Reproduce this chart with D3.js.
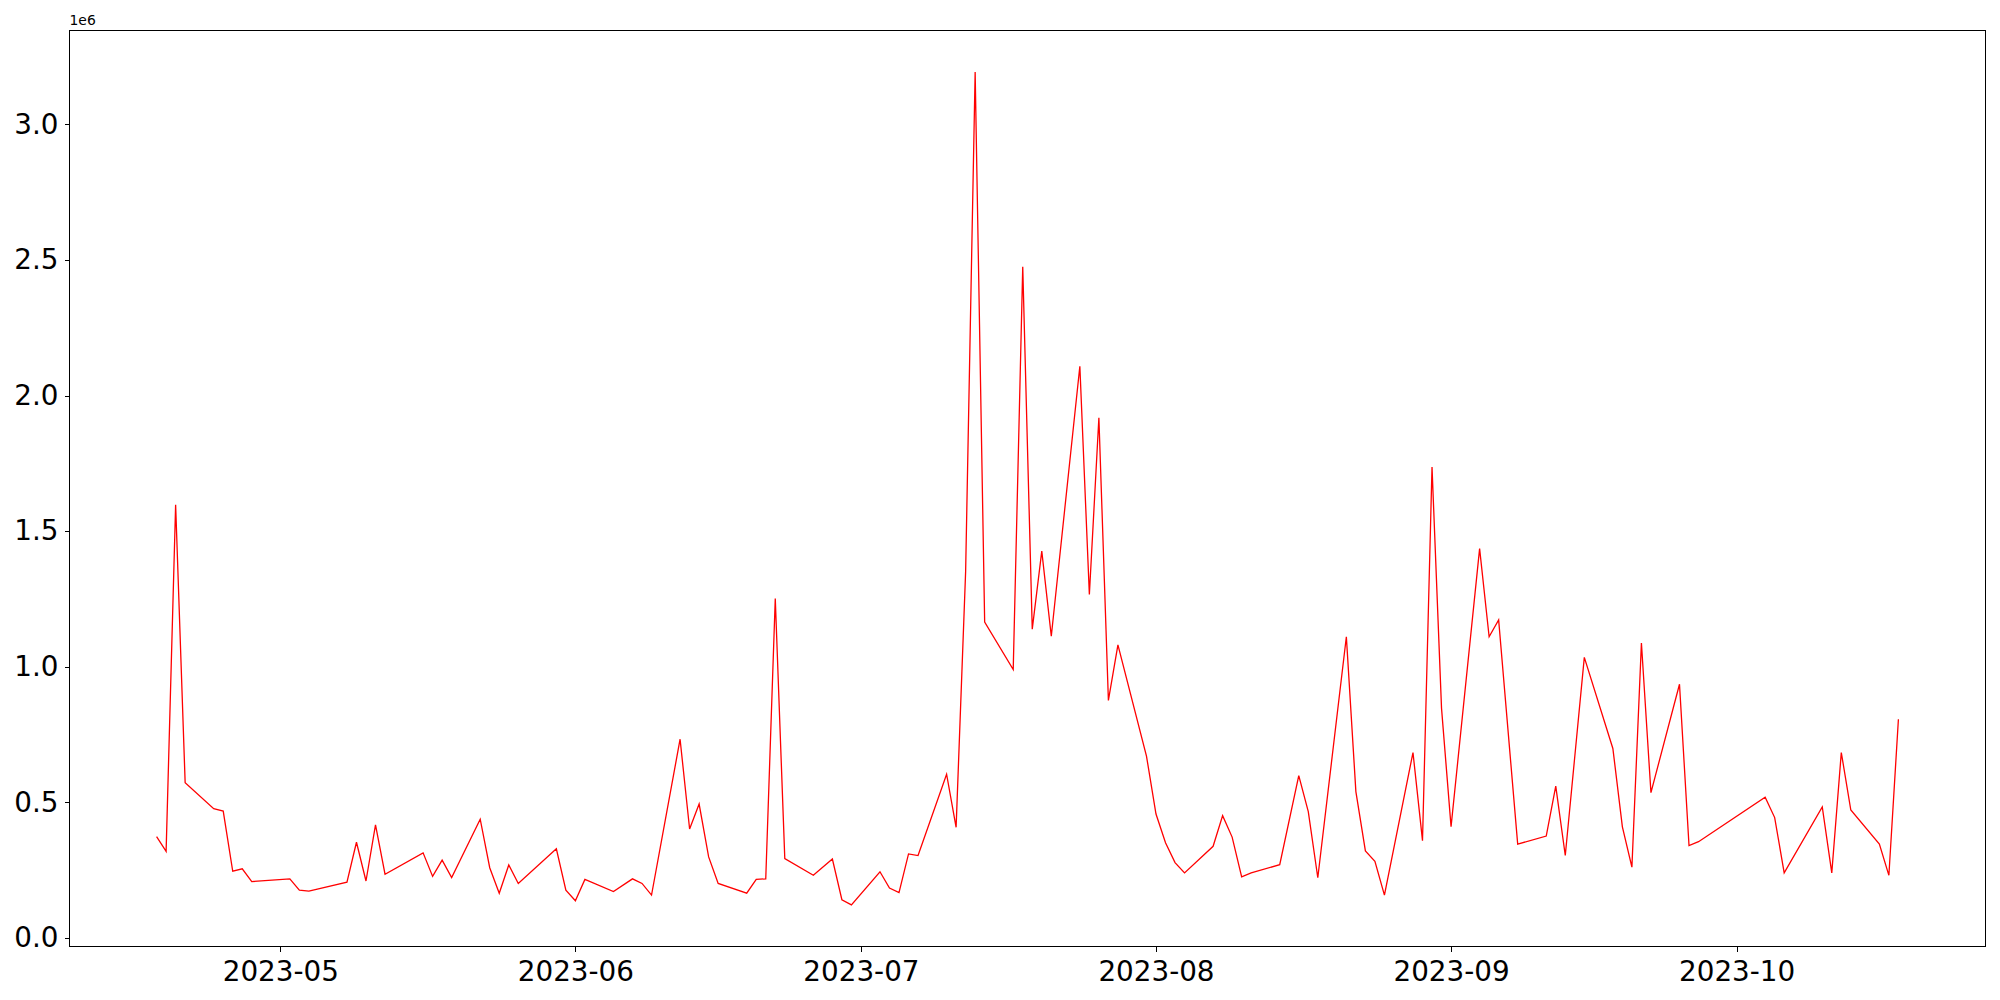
<html>
<head>
<meta charset="UTF-8">
<script src="https://d3js.org/d3.v7.min.js"></script>
<style>
    body { margin: 0; background: #fff; }
    text { font-family: "DejaVu Sans", sans-serif; }
</style>
</head>
<body>
<svg width="2000" height="1000" id="canvas"></svg>
<script>
    // trading days
    var dates = [
        "2023-04-18", "2023-04-19", "2023-04-20", "2023-04-21", "2023-04-24", "2023-04-25", "2023-04-26", "2023-04-27", "2023-04-28",
        "2023-05-02", "2023-05-03", "2023-05-04", "2023-05-08", "2023-05-09", "2023-05-10", "2023-05-11", "2023-05-12", "2023-05-16",
        "2023-05-17", "2023-05-18", "2023-05-19", "2023-05-22", "2023-05-23", "2023-05-24", "2023-05-25", "2023-05-26", "2023-05-30", "2023-05-31",
        "2023-06-01", "2023-06-02", "2023-06-05", "2023-06-07", "2023-06-08", "2023-06-09", "2023-06-12", "2023-06-13", "2023-06-14", "2023-06-15",
        "2023-06-16", "2023-06-19", "2023-06-20", "2023-06-21", "2023-06-22", "2023-06-23", "2023-06-26", "2023-06-28", "2023-06-29", "2023-06-30",
        "2023-07-03", "2023-07-04", "2023-07-05", "2023-07-06", "2023-07-07", "2023-07-10", "2023-07-11", "2023-07-12", "2023-07-13", "2023-07-14",
        "2023-07-17", "2023-07-18", "2023-07-19", "2023-07-20", "2023-07-21", "2023-07-24", "2023-07-25", "2023-07-26", "2023-07-27", "2023-07-28", "2023-07-31",
        "2023-08-01", "2023-08-02", "2023-08-03", "2023-08-04", "2023-08-07", "2023-08-08", "2023-08-09", "2023-08-10", "2023-08-11", "2023-08-14",
        "2023-08-16", "2023-08-17", "2023-08-18", "2023-08-21", "2023-08-22", "2023-08-23", "2023-08-24", "2023-08-25", "2023-08-28", "2023-08-29", "2023-08-30", "2023-08-31",
        "2023-09-01", "2023-09-04", "2023-09-05", "2023-09-06", "2023-09-08", "2023-09-11", "2023-09-12", "2023-09-13", "2023-09-15",
        "2023-09-18", "2023-09-19", "2023-09-20", "2023-09-21", "2023-09-22", "2023-09-25", "2023-09-26", "2023-09-27",
        "2023-10-04", "2023-10-05", "2023-10-06", "2023-10-10", "2023-10-11", "2023-10-12", "2023-10-13", "2023-10-16", "2023-10-17", "2023-10-18"
    ];

    var values = [
        373000, 318000, 1597000, 572000, 476000, 467000, 245000, 254000, 207000,
        217000, 175000, 172000, 205000, 352000, 209000, 416000, 234000, 313000,
        226000, 286000, 222000, 437000, 258000, 164000, 268000, 200000, 328000, 175000,
        136000, 215000, 170000, 217000, 200000, 157000, 732000, 401000, 493000, 298000,
        200000, 164000, 215000, 217000, 1251000, 292000, 230000, 290000, 140000, 121000,
        243000, 183000, 166000, 309000, 303000, 603000, 407000, 1351000, 3193000, 1164000,
        989000, 2475000, 1138000, 1426000, 1112000, 2108000, 1266000, 1918000, 875000, 1080000, 670000,
        456000, 350000, 277000, 239000, 337000, 450000, 371000, 224000, 239000, 269000,
        598000, 465000, 221000, 1110000, 539000, 320000, 282000, 157000, 683000, 358000, 1736000, 846000,
        409000, 1435000, 1110000, 1172000, 345000, 375000, 559000, 303000, 1034000,
        698000, 409000, 260000, 1087000, 535000, 935000, 340000, 354000,
        518000, 443000, 239000, 482000, 239000, 683000, 471000, 345000, 230000, 806000
    ];

    var xTicks = ["2023-05-01", "2023-06-01", "2023-07-01", "2023-08-01", "2023-09-01", "2023-10-01"];
    var yTicks = [0, 500000, 1000000, 1500000, 2000000, 2500000, 3000000];

    var parse = d3.utcParse("%Y-%m-%d");
    var data = dates.map(function (d, i) { return { date: parse(d), value: values[i] }; });

    var svg = d3.select("#canvas");
    var plotLeft = 69.5, plotRight = 1985.5, plotTop = 30.5, plotBottom = 946.5;

    // matplotlib style 5% padding on both axes
    var xExt = d3.extent(data, d => d.date);
    var xPad = (xExt[1] - xExt[0]) * 0.05;
    var x = d3.scaleUtc()
        .domain([new Date(+xExt[0] - xPad), new Date(+xExt[1] + xPad)])
        .range([plotLeft, plotRight]);

    var yExt = d3.extent(data, d => d.value);
    var yPad = (yExt[1] - yExt[0]) * 0.05;
    var y = d3.scaleLinear()
        .domain([yExt[0] - yPad, yExt[1] + yPad])
        .range([plotBottom, plotTop]);

    var line = d3.line()
        .x(d => x(d.date))
        .y(d => y(d.value));

    svg.append("path")
        .datum(data)
        .attr("fill", "none")
        .attr("stroke", "#ff0000")
        .attr("stroke-width", 1.3)
        .attr("stroke-linejoin", "miter")
        .attr("d", line);

    var xAxis = svg.append("g")
        .attr("transform", "translate(0," + plotBottom + ")")
        .call(d3.axisBottom(x)
            .tickValues(xTicks.map(parse))
            .tickFormat(d3.utcFormat("%Y-%m"))
            .tickSizeOuter(0)
            .tickSize(5)
            .tickPadding(6));

    var yAxis = svg.append("g")
        .attr("transform", "translate(" + plotLeft + ",0)")
        .call(d3.axisLeft(y)
            .tickValues(yTicks)
            .tickFormat(d => (d / 1e6).toFixed(1))
            .tickSizeOuter(0)
            .tickSize(5)
            .tickPadding(6));

    [xAxis, yAxis].forEach(function (a) {
        a.select(".domain").remove();
        a.selectAll(".tick line")
            .attr("stroke", "#000")
            .attr("stroke-width", 1)
            .attr("shape-rendering", "crispEdges");
        a.selectAll(".tick text")
            .attr("fill", "#000")
            .style("font-family", "'DejaVu Sans', sans-serif")
            .style("font-size", "27.8px");
    });
    xAxis.selectAll(".tick text").attr("dy", "0.85em");

    // frame
    svg.append("rect")
        .attr("x", plotLeft).attr("y", plotTop)
        .attr("width", plotRight - plotLeft).attr("height", plotBottom - plotTop)
        .attr("fill", "none")
        .attr("stroke", "#000")
        .attr("stroke-width", 1.2)
        .attr("shape-rendering", "crispEdges");

    svg.append("text")
        .attr("x", plotLeft)
        .attr("y", plotTop - 6)
        .style("font-size", "13.9px")
        .attr("fill", "#000")
        .text("1e6");
</script>
</body>
</html>
